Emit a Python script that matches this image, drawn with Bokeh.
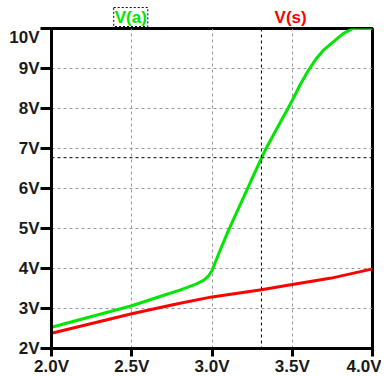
from bokeh.plotting import figure
from bokeh.layouts import column
from bokeh.models import Range1d, FixedTicker, Span
from bokeh.core.properties import value
from bokeh.embed import file_html
from bokeh.resources import INLINE

# data
va_x = [2.0, 2.25, 2.5, 2.7, 2.8, 2.9, 2.95, 2.98, 3.0, 3.02, 3.05, 3.1, 3.2, 3.244, 3.308,
        3.337, 3.4, 3.473, 3.5, 3.55, 3.6, 3.65, 3.7, 3.754, 3.817, 3.879, 4.0]
va_y = [2.53, 2.8, 3.07, 3.33, 3.46, 3.61, 3.71, 3.82, 3.95, 4.15, 4.45, 4.93, 5.81, 6.2, 6.76,
        7.0, 7.47, 8.0, 8.2, 8.6, 8.95, 9.25, 9.48, 9.66, 9.87, 10.0, 10.0]
vs_x = [2.0, 2.5, 2.785, 3.0, 3.308, 3.5, 3.744, 4.0]
vs_y = [2.38, 2.87, 3.12, 3.29, 3.47, 3.6, 3.76, 3.99]
x_ticks = [2.0, 2.5, 3.0, 3.5, 4.0]
x_labels = ["2.0V", "2.5V", "3.0V", "3.5V", "4.0V"]
y_ticks = [2, 3, 4, 5, 6, 7, 8, 9, 10]
y_labels = ["2V", "3V", "4V", "5V", "6V", "7V", "8V", "9V", "10V"]
legend_names = ["V(a)", "V(s)"]
legend_x = [2.494, 3.49]
cursor_x = 3.308
cursor_y = 6.77

FONT = "Liberation Sans"
GREEN = "#00e600"
RED = "#ff0000"

x_range = Range1d(2.0, 4.0)

# top strip with the trace names
top = figure(frame_width=321, frame_height=21, x_range=x_range, y_range=Range1d(-0.05, 1.05),
             output_backend="svg", toolbar_location=None, x_axis_type=None, y_axis_type=None,
             min_border_left=51, min_border_right=9, min_border_top=6, min_border_bottom=0)
top.outline_line_color = None
top.xgrid.visible = False
top.ygrid.visible = False
top.rect(x=[legend_x[0]], y=[0.5], width=0.2125, height=1.0, fill_color=None,
         line_color="black", line_dash="2 2", line_width=1)
top.text(x=legend_x, y=[0.45, 0.45], text=legend_names, text_color=[GREEN, RED],
         text_font=value(FONT), text_font_style="bold", text_font_size="17px",
         text_align="center", text_baseline="middle")

p = figure(frame_width=321, frame_height=320, x_range=x_range, y_range=Range1d(2, 10),
           output_backend="svg", toolbar_location=None,
           min_border_left=51, min_border_right=9, min_border_top=1, min_border_bottom=22)
p.background_fill_color = "white"
p.border_fill_color = "white"
p.outline_line_color = "black"
p.outline_line_width = 3

p.xaxis.ticker = FixedTicker(ticks=x_ticks)
p.yaxis.ticker = FixedTicker(ticks=y_ticks)
p.xaxis.major_label_overrides = {t: l for t, l in zip(x_ticks, x_labels)}
p.yaxis.major_label_overrides = {t: l for t, l in zip(y_ticks, y_labels)}
for ax in (p.xaxis, p.yaxis):
    ax.axis_line_width = 3
    ax.axis_line_color = "black"
    ax.major_tick_line_width = 3
    ax.major_tick_line_color = "black"
    ax.major_tick_in = 0
    ax.minor_tick_line_color = None
    ax.major_label_text_font = FONT
    ax.major_label_text_font_style = "bold"
    ax.major_label_text_font_size = "17px"
    ax.major_label_text_color = "#1a1a1a"
p.xaxis.major_tick_out = 8
p.xaxis.major_label_standoff = 0
p.yaxis.major_tick_out = 11
p.yaxis.major_label_standoff = 1

for g in (p.xgrid, p.ygrid):
    g.grid_line_color = "#999999"
    g.grid_line_dash = "3 3"
    g.grid_line_width = 1

p.add_layout(Span(location=cursor_x, dimension="height", line_color="black", line_dash="3 3", line_width=1))
p.add_layout(Span(location=cursor_y, dimension="width", line_color="black", line_dash="3 3", line_width=1))

p.line(vs_x, vs_y, line_color=RED, line_width=3)
p.line(va_x, va_y, line_color=GREEN, line_width=3)

layout = column(top, p, spacing=0)
open("out.html", "w").write(file_html(layout, INLINE))
